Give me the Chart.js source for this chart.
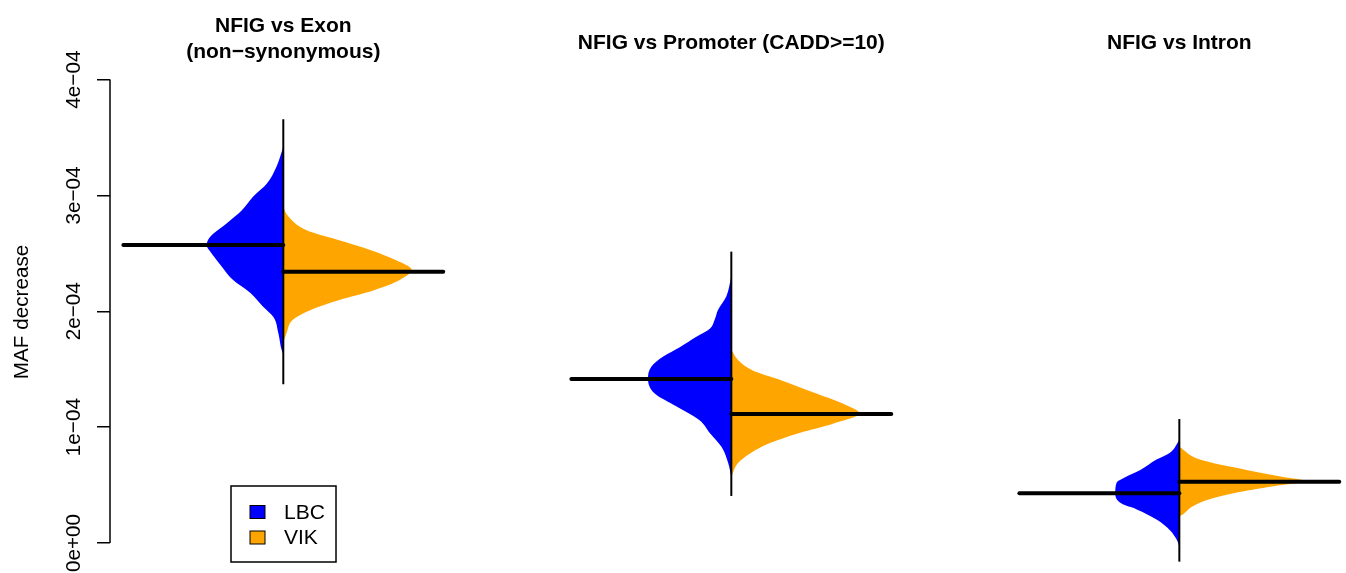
<!DOCTYPE html>
<html>
<head>
<meta charset="utf-8">
<script src="https://cdn.jsdelivr.net/npm/chart.js@4.4.1/dist/chart.umd.min.js"></script>
<style>
  html, body { margin: 0; padding: 0; background: #fff; }
  canvas { display: block; }
</style>
</head>
<body>
<canvas id="chart" width="1346" height="573"></canvas>
<script>
const FONT = '"Liberation Sans", Arial, Helvetica, sans-serif';

const groupTitles = [
  ['NFIG vs Exon', '(non−synonymous)'],
  ['NFIG vs Promoter (CADD>=10)'],
  ['NFIG vs Intron']
];
const groupPositions = [1, 2, 3];
const seriesNames = ['LBC', 'VIK'];
const seriesColors = ['#0000ff', '#ffa500'];

const yTickValues = [0, 1e-4, 2e-4, 3e-4, 4e-4];
const yTickLabels = ['0e+00', '1e−04', '2e−04', '3e−04', '4e−04'];

const lbcMedians = [2.572e-4, 1.416e-4, 0.429e-4];
const vikMedians = [2.342e-4, 1.114e-4, 0.529e-4];
const rangeLow = [1.37e-4, 0.406e-4, -0.161e-4];
const rangeHigh = [3.657e-4, 2.515e-4, 1.07e-4];

// density outlines: value on y, half width as a fraction of the group spacing
const exonLbcY = [3.42e-4, 3.25e-4, 3.10e-4, 2.99e-4, 2.87e-4, 2.76e-4, 2.64e-4, 2.57e-4, 2.50e-4, 2.39e-4, 2.27e-4, 2.16e-4, 2.04e-4, 1.95e-4, 1.81e-4, 1.67e-4, 1.63e-4];
const exonLbcW = [0, 0.015, 0.037, 0.067, 0.093, 0.126, 0.164, 0.171, 0.160, 0.138, 0.112, 0.074, 0.045, 0.022, 0.011, 0.004, 0];
const exonVikY = [2.90e-4, 2.82e-4, 2.70e-4, 2.62e-4, 2.53e-4, 2.44e-4, 2.36e-4, 2.27e-4, 2.18e-4, 2.10e-4, 2.01e-4, 1.93e-4, 1.81e-4, 1.73e-4];
const exonVikW = [0, 0.011, 0.052, 0.119, 0.194, 0.252, 0.286, 0.260, 0.201, 0.127, 0.060, 0.022, 0.007, 0];

const promLbcY = [2.30e-4, 2.13e-4, 2.01e-4, 1.93e-4, 1.85e-4, 1.78e-4, 1.69e-4, 1.61e-4, 1.52e-4, 1.42e-4, 1.29e-4, 1.18e-4, 1.06e-4, 0.95e-4, 0.83e-4, 0.69e-4, 0.57e-4];
const promLbcW = [0, 0.011, 0.030, 0.037, 0.048, 0.078, 0.115, 0.152, 0.179, 0.186, 0.171, 0.123, 0.071, 0.048, 0.022, 0.007, 0];
const promVikY = [1.67e-4, 1.58e-4, 1.49e-4, 1.41e-4, 1.29e-4, 1.19e-4, 1.12e-4, 1.03e-4, 0.95e-4, 0.86e-4, 0.77e-4, 0.69e-4, 0.57e-4];
const promVikW = [0, 0.015, 0.048, 0.108, 0.190, 0.257, 0.286, 0.227, 0.152, 0.085, 0.041, 0.015, 0];

const intrLbcY = [0.89e-4, 0.78e-4, 0.72e-4, 0.63e-4, 0.57e-4, 0.52e-4, 0.43e-4, 0.34e-4, 0.29e-4, 0.20e-4, 0.11e-4, 0.03e-4, -0.03e-4];
const intrLbcW = [0, 0.021, 0.051, 0.087, 0.120, 0.140, 0.143, 0.129, 0.095, 0.050, 0.021, 0.006, 0];
const intrVikY = [0.83e-4, 0.72e-4, 0.63e-4, 0.57e-4, 0.535e-4, 0.49e-4, 0.43e-4, 0.37e-4, 0.31e-4, 0.25e-4, 0.23e-4];
const intrVikW = [0, 0.046, 0.150, 0.232, 0.281, 0.210, 0.121, 0.060, 0.027, 0.009, 0];

const lbcProfiles = [[exonLbcY, exonLbcW], [promLbcY, promLbcW], [intrLbcY, intrLbcW]];
const vikProfiles = [[exonVikY, exonVikW], [promVikY, promVikW], [intrVikY, intrVikW]];

const MEDIAN_LEN = 0.357;

function halfViolin(center, ys, ws, side, color) {
  return {
    type: 'line',
    indexAxis: 'y',
    data: ys.map((v, i) => ({ x: center + side * ws[i], y: v })),
    backgroundColor: color,
    borderWidth: 0,
    pointRadius: 0,
    fill: 'shape',
    cubicInterpolationMode: 'monotone',
    order: 3
  };
}

function segment(points, width, cap, order) {
  return {
    type: 'line',
    data: points,
    borderColor: '#000',
    borderWidth: width,
    borderCapStyle: cap,
    pointRadius: 0,
    fill: false,
    order: order
  };
}

const datasets = [];
groupPositions.forEach((c, i) => {
  datasets.push(halfViolin(c, lbcProfiles[i][0], lbcProfiles[i][1], -1, seriesColors[0]));
  datasets.push(halfViolin(c, vikProfiles[i][0], vikProfiles[i][1], 1, seriesColors[1]));
  datasets.push(segment([{ x: c, y: rangeLow[i] }, { x: c, y: rangeHigh[i] }], 2, 'butt', 2));
  datasets.push(segment([{ x: c - MEDIAN_LEN, y: lbcMedians[i] }, { x: c, y: lbcMedians[i] }], 4, 'round', 1));
  datasets.push(segment([{ x: c, y: vikMedians[i] }, { x: c + MEDIAN_LEN, y: vikMedians[i] }], 4, 'round', 1));
});

const decorations = {
  id: 'decorations',
  afterDraw(chart) {
    const { ctx, chartArea } = chart;
    const x = chart.scales.x;
    const y = chart.scales.y;
    ctx.save();

    // axis line only over the tick range, like base R
    ctx.strokeStyle = '#000';
    ctx.lineWidth = 1.5;
    ctx.beginPath();
    ctx.moveTo(chartArea.left, y.getPixelForValue(yTickValues[0]));
    ctx.lineTo(chartArea.left, y.getPixelForValue(yTickValues[yTickValues.length - 1]));
    ctx.stroke();

    // panel titles
    ctx.fillStyle = '#000';
    ctx.font = 'bold 21px ' + FONT;
    ctx.textAlign = 'center';
    ctx.textBaseline = 'alphabetic';
    groupTitles.forEach((lines, i) => {
      const cx = x.getPixelForValue(groupPositions[i]);
      const base = lines.length > 1 ? 32 : 48.5;
      lines.forEach((t, j) => ctx.fillText(t, cx, base + j * 25.5));
    });

    // legend box
    ctx.lineWidth = 1.5;
    ctx.strokeRect(231, 486, 105, 76);
    ctx.font = '21px ' + FONT;
    ctx.textAlign = 'left';
    ctx.textBaseline = 'middle';
    seriesNames.forEach((name, i) => {
      const ty = 512 + i * 25.5;
      ctx.fillStyle = seriesColors[i];
      ctx.fillRect(250, ty - 6.5, 15, 13);
      ctx.lineWidth = 1;
      ctx.strokeRect(250, ty - 6.5, 15, 13);
      ctx.fillStyle = '#000';
      ctx.fillText(name, 284, ty + 1);
    });
    ctx.restore();
  }
};

new Chart(document.getElementById('chart'), {
  type: 'line',
  data: { datasets: datasets },
  options: {
    responsive: false,
    animation: false,
    devicePixelRatio: 1,
    layout: { padding: { top: 51, left: 0, right: 0, bottom: 0 } },
    plugins: { legend: { display: false }, tooltip: { enabled: false } },
    scales: {
      x: { type: 'linear', min: 0.6132, max: 3.372, display: false },
      y: {
        type: 'linear',
        min: -0.259e-4,
        max: 4.247e-4,
        afterBuildTicks: s => { s.ticks = yTickValues.map(v => ({ value: v })); },
        afterFit: s => {
          s.width = 110;
          s.paddingTop = 0;
          s.paddingBottom = 0;
        },
        border: { display: false },
        grid: { drawOnChartArea: false, drawTicks: true, tickLength: 13, color: '#000', lineWidth: 1.5 },
        ticks: {
          autoSkip: false,
          minRotation: 90,
          maxRotation: 90,
          crossAlign: 'center',
          padding: -6,
          color: '#000',
          font: { family: FONT, size: 20.7 },
          callback: (v, i) => yTickLabels[i]
        },
        title: {
          display: true,
          text: 'MAF decrease',
          color: '#000',
          font: { family: FONT, size: 20.7 },
          padding: { top: 10, bottom: 0 }
        }
      }
    }
  },
  plugins: [decorations]
});
</script>
</body>
</html>
